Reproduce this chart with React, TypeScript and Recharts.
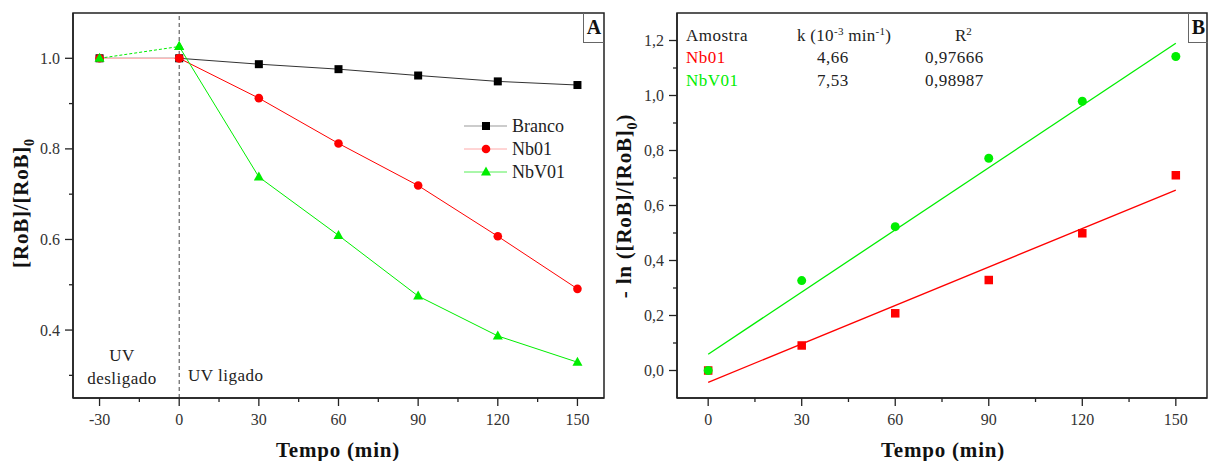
import React from 'react';
import { ComposedChart, Line, XAxis, YAxis, ReferenceLine, ReferenceArea } from 'recharts';

// ---------- Panel A data ----------
const timeA = [-30, 0, 30, 60, 90, 120, 150];
const brancoA = [1.0, 1.0, 0.987, 0.976, 0.962, 0.949, 0.941];
const nb01A = [1.0, 1.0, 0.912, 0.812, 0.719, 0.607, 0.491];
const nbv01A = [1.0, 1.026, 0.738, 0.609, 0.475, 0.387, 0.329];
const ticksAX = [-30, -15, 0, 15, 30, 45, 60, 75, 90, 105, 120, 135, 150];
const ticksAY = [0.3, 0.4, 0.5, 0.6, 0.7, 0.8, 0.9, 1.0];

// ---------- Panel B data ----------
const timeB = [0, 30, 60, 90, 120, 150];
const nb01B = [0, 0.091, 0.208, 0.329, 0.499, 0.71];
const nbv01B = [0, 0.327, 0.523, 0.772, 0.979, 1.142];
const fitT = [0, 150];
const fitNb01 = [-0.043, 0.656];
const fitNbV01 = [0.059, 1.19];
const ticksBX = [0, 15, 30, 45, 60, 75, 90, 105, 120, 135, 150];
const ticksBY = [0, 0.1, 0.2, 0.3, 0.4, 0.5, 0.6, 0.7, 0.8, 0.9, 1.0, 1.1, 1.2];

const FONT = '"Liberation Serif", "Times New Roman", serif';
const INK = '#222';
const RED = '#ff0000';
const GREEN = '#00ee00';

const rows = (t: number[], v: number[]) => t.map((x, i) => ({ t: x, v: v[i] }));

const Square = (size: number, fill: string) => (p: any) =>
  p.cx == null ? <g key={p.index} /> : (
    <rect key={p.index} x={p.cx - size / 2} y={p.cy - size / 2} width={size} height={size} fill={fill} />
  );
const Circle = (r: number, fill: string) => (p: any) =>
  p.cx == null ? <g key={p.index} /> : <circle key={p.index} cx={p.cx} cy={p.cy} r={r} fill={fill} />;
const Tri = (fill: string) => (p: any) =>
  p.cx == null ? <g key={p.index} /> : (
    <path key={p.index} d={`M${p.cx},${p.cy - 5.5} L${p.cx + 5},${p.cy + 3.5} L${p.cx - 5},${p.cy + 3.5} Z`} fill={fill} />
  );

const makeXTick = (fmt: (v: number) => string) => (p: any) => {
  const v = p.payload.value;
  const major = Math.round(v) % 30 === 0;
  return (
    <g key={`xt${v}`}>
      <line x1={p.x} y1={p.y} x2={p.x} y2={p.y + (major ? 8 : 4)} stroke={INK} strokeWidth={1.3} />
      {major && (
        <text x={p.x} y={p.y + 21} textAnchor="middle" dominantBaseline="central" fontFamily={FONT} fontSize={16} fill="#333">
          {fmt(v)}
        </text>
      )}
    </g>
  );
};
const makeYTick = (fmt: (v: number) => string) => (p: any) => {
  const v = p.payload.value;
  const major = Math.round(v * 10) % 2 === 0;
  return (
    <g key={`yt${v}`}>
      <line x1={p.x} y1={p.y} x2={p.x - (major ? 8 : 4)} y2={p.y} stroke={INK} strokeWidth={1.3} />
      {major && (
        <text x={p.x - 13} y={p.y} textAnchor="end" dominantBaseline="central" fontFamily={FONT} fontSize={16} fill="#333">
          {fmt(v)}
        </text>
      )}
    </g>
  );
};

const abs = (left: number, top: number, extra: React.CSSProperties = {}): React.CSSProperties => ({
  position: 'absolute', left, top, whiteSpace: 'nowrap', lineHeight: 1, ...extra,
});

const LegendRow = ({ top, line, marker, label }: any) => (
  <div style={abs(464, top - 10, { display: 'flex', alignItems: 'center', height: 20 })}>
    <svg width={46} height={20}>
      <line x1={0} y1={10} x2={43} y2={10} stroke={line} strokeWidth={1} />
      {marker}
    </svg>
    <span style={{ fontSize: 18, color: '#222', marginLeft: 2 }}>{label}</span>
  </div>
);

export default function App() {
  const brancoData = rows(timeA, brancoA);
  const nb01Data = rows(timeA, nb01A);
  const nbv01Data = rows(timeA, nbv01A);
  return (
    <div style={{ position: 'absolute', left: 0, top: 0, width: 1209, height: 461, background: '#fff', fontFamily: FONT, overflow: 'hidden' }}>
      {/* Panel A */}
      <div style={{ position: 'absolute', left: 0, top: 0 }}>
        <ComposedChart width={620} height={461} margin={{ top: 13, right: 16, bottom: 0, left: 0 }}>
          <XAxis type="number" dataKey="t" domain={[-40, 160]} ticks={ticksAX} interval={0} height={63}
            tickSize={0} tickMargin={0} tickLine={false} axisLine={{ stroke: INK, strokeWidth: 1.5 }}
            tick={makeXTick((v) => String(v))} allowDataOverflow />
          <YAxis type="number" dataKey="v" domain={[0.25, 1.1]} ticks={ticksAY} interval={0} width={73}
            tickSize={0} tickMargin={0} tickLine={false} axisLine={{ stroke: INK, strokeWidth: 1.5 }}
            tick={makeYTick((v) => v.toFixed(1))} allowDataOverflow />
          <ReferenceArea x1={-40} x2={160} y1={0.25} y2={1.1} fill="none" fillOpacity={0} stroke={INK} strokeWidth={1.5} ifOverflow="visible" />
          <ReferenceLine x={0} stroke="#444" strokeDasharray="4 3" strokeWidth={1} />
          <Line data={brancoData} dataKey="v" type="linear" stroke="#333" strokeWidth={1} dot={Square(8, '#000')} isAnimationActive={false} />
          <Line data={nb01Data.slice(0, 2)} dataKey="v" type="linear" stroke="#ffb8b8" strokeWidth={1.2} dot={Circle(4.3, RED)} isAnimationActive={false} />
          <Line data={nb01Data.slice(1)} dataKey="v" type="linear" stroke={RED} strokeWidth={1} dot={Circle(4.3, RED)} isAnimationActive={false} />
          <Line data={nbv01Data.slice(0, 2)} dataKey="v" type="linear" stroke={GREEN} strokeDasharray="3 2" strokeWidth={1} dot={Tri(GREEN)} isAnimationActive={false} />
          <Line data={nbv01Data.slice(1)} dataKey="v" type="linear" stroke={GREEN} strokeWidth={1} dot={Tri(GREEN)} isAnimationActive={false} />
        </ComposedChart>
      </div>

      {/* Panel B */}
      <div style={{ position: 'absolute', left: 620, top: 0 }}>
        <ComposedChart width={589} height={461} margin={{ top: 13, right: 2, bottom: 0, left: 0 }}>
          <XAxis type="number" dataKey="t" domain={[-10, 160]} ticks={ticksBX} interval={0} height={63}
            tickSize={0} tickMargin={0} tickLine={false} axisLine={{ stroke: INK, strokeWidth: 1.5 }}
            tick={makeXTick((v) => String(v))} allowDataOverflow />
          <YAxis type="number" dataKey="v" domain={[-0.1, 1.3]} ticks={ticksBY} interval={0} width={57}
            tickSize={0} tickMargin={0} tickLine={false} axisLine={{ stroke: INK, strokeWidth: 1.5 }}
            tick={makeYTick((v) => v.toFixed(1).replace('.', ','))} allowDataOverflow />
          <ReferenceArea x1={-10} x2={160} y1={-0.1} y2={1.3} fill="none" fillOpacity={0} stroke={INK} strokeWidth={1.5} ifOverflow="visible" />
          <Line data={rows(fitT, fitNb01)} dataKey="v" type="linear" stroke={RED} strokeWidth={1.3} dot={false} isAnimationActive={false} />
          <Line data={rows(fitT, fitNbV01)} dataKey="v" type="linear" stroke={GREEN} strokeWidth={1.3} dot={false} isAnimationActive={false} />
          <Line data={rows(timeB, nb01B)} dataKey="v" type="linear" stroke="none" dot={Square(8.5, RED)} isAnimationActive={false} />
          <Line data={rows(timeB, nbv01B)} dataKey="v" type="linear" stroke="none" dot={Circle(4.5, GREEN)} isAnimationActive={false} />
        </ComposedChart>
      </div>

      {/* Axis titles */}
      <div style={abs(338, 450, { transform: 'translate(-50%,-50%)', fontWeight: 'bold', fontSize: 21, letterSpacing: 0.8, color: '#111' })}>Tempo (min)</div>
      <div style={abs(943, 450, { transform: 'translate(-50%,-50%)', fontWeight: 'bold', fontSize: 21, letterSpacing: 0.8, color: '#111' })}>Tempo (min)</div>
      <div style={abs(24, 203, { transform: 'translate(-50%,-50%) rotate(-90deg)', fontWeight: 'bold', fontSize: 21, letterSpacing: 0.8, color: '#111' })}>
        [RoB]/[RoB]<sub style={{ fontSize: 14 }}>0</sub>
      </div>
      <div style={abs(627, 206, { transform: 'translate(-50%,-50%) rotate(-90deg)', fontWeight: 'bold', fontSize: 21, letterSpacing: 0.8, color: '#111' })}>
        - ln ([RoB]/[RoB]<sub style={{ fontSize: 14 }}>0</sub>)
      </div>

      {/* Panel labels */}
      <div style={{ position: 'absolute', left: 583, top: 13, width: 20, height: 29, borderLeft: '1px solid #666', borderBottom: '1px solid #666', display: 'flex', alignItems: 'center', justifyContent: 'center', fontWeight: 'bold', fontSize: 20, color: '#111' }}>A</div>
      <div style={{ position: 'absolute', left: 1188, top: 13, width: 19, height: 29, borderLeft: '1px solid #666', borderBottom: '1px solid #666', display: 'flex', alignItems: 'center', justifyContent: 'center', fontWeight: 'bold', fontSize: 20, color: '#111' }}>B</div>

      {/* UV annotations */}
      <div style={abs(122, 355, { transform: 'translate(-50%,-50%)', fontSize: 17, color: '#222', letterSpacing: 0.5 })}>UV</div>
      <div style={abs(122, 378, { transform: 'translate(-50%,-50%)', fontSize: 17, color: '#222', letterSpacing: 0.5 })}>desligado</div>
      <div style={abs(188, 375, { transform: 'translate(0,-50%)', fontSize: 17, color: '#222', letterSpacing: 0.5 })}>UV ligado</div>

      {/* Legend A */}
      <LegendRow top={126} line="#999" label="Branco" marker={<rect x={18} y={6} width={8} height={8} fill="#000" />} />
      <LegendRow top={149} line="#ffaaaa" label="Nb01" marker={<circle cx={22} cy={10} r={4.3} fill={RED} />} />
      <LegendRow top={172} line="#55ee55" label="NbV01" marker={<path d="M22,4.5 L27,13.5 L17,13.5 Z" fill={GREEN} />} />

      {/* Table in B */}
      <div style={abs(686, 35, { transform: 'translate(0,-50%)', fontSize: 17, color: '#222', letterSpacing: 0.5 })}>Amostra</div>
      <div style={abs(797, 35, { transform: 'translate(0,-50%)', fontSize: 17, color: '#222', letterSpacing: 0.3 })}>
        k (10<sup style={{ fontSize: 11 }}>-3</sup> min<sup style={{ fontSize: 11 }}>-1</sup>)
      </div>
      <div style={abs(955, 35, { transform: 'translate(0,-50%)', fontSize: 17, color: '#222' })}>
        R<sup style={{ fontSize: 11 }}>2</sup>
      </div>
      <div style={abs(686, 57, { transform: 'translate(0,-50%)', fontSize: 17, color: RED, letterSpacing: 0.5 })}>Nb01</div>
      <div style={abs(817, 57, { transform: 'translate(0,-50%)', fontSize: 17, color: '#222', letterSpacing: 0.5 })}>4,66</div>
      <div style={abs(925, 57, { transform: 'translate(0,-50%)', fontSize: 17, color: '#222', letterSpacing: 0.5 })}>0,97666</div>
      <div style={abs(686, 80, { transform: 'translate(0,-50%)', fontSize: 17, color: GREEN, letterSpacing: 0.5 })}>NbV01</div>
      <div style={abs(817, 80, { transform: 'translate(0,-50%)', fontSize: 17, color: '#222', letterSpacing: 0.5 })}>7,53</div>
      <div style={abs(925, 80, { transform: 'translate(0,-50%)', fontSize: 17, color: '#222', letterSpacing: 0.5 })}>0,98987</div>
    </div>
  );
}
